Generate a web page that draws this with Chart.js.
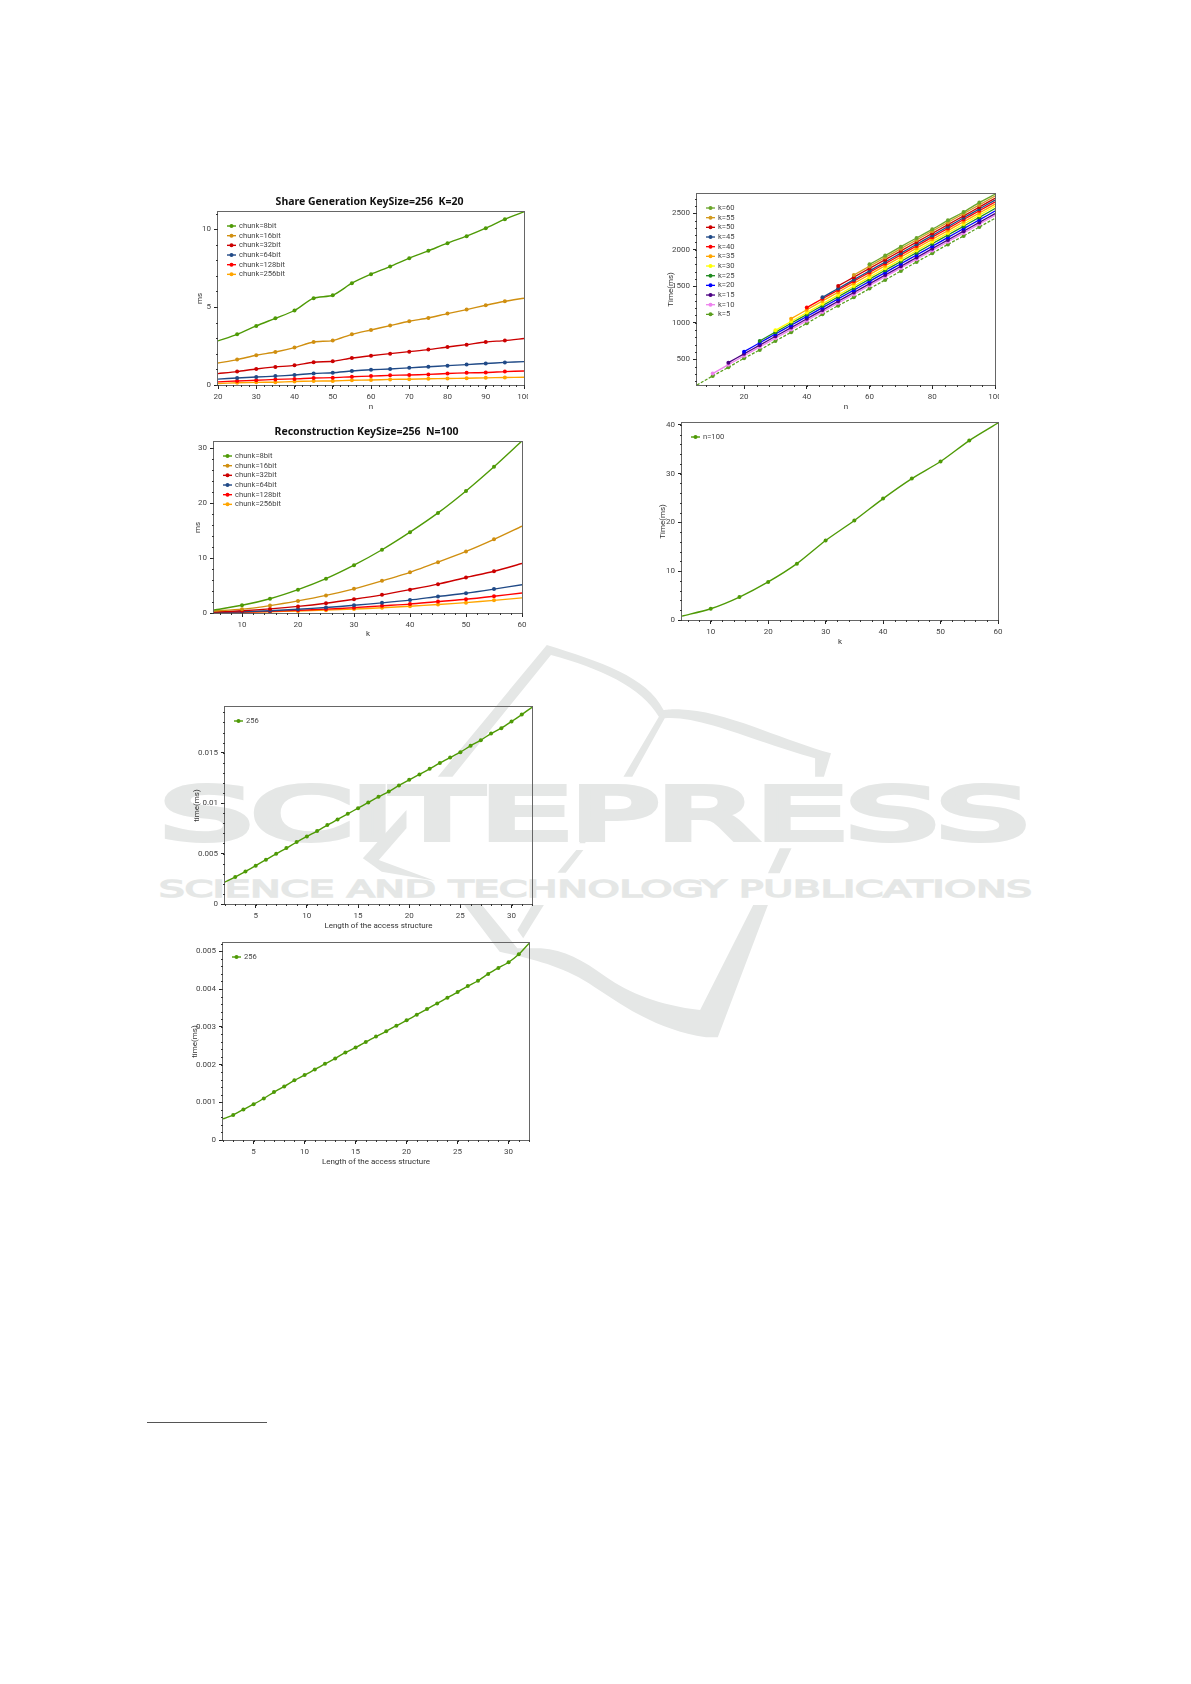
<!DOCTYPE html>
<html>
<head>
<meta charset="utf-8">
<title>Share generation and reconstruction timings</title>
<script src="https://cdn.jsdelivr.net/npm/chart.js@4"></script>
<style>
    html, body { margin: 0; padding: 0; background: #fff; }
    #page { position: relative; width: 1191px; height: 1684px; overflow: hidden; background: #fff; }
    #mark { position: absolute; left: 0; top: 0; }
    canvas { position: absolute; filter: blur(0.3px); }
    #rule { position: absolute; left: 147px; top: 1422px; width: 120px; height: 1px; background: #555; }
</style>
</head>
<body>
<div id="page">
    <svg id="mark" width="1191" height="1684" fill="#e5e7e6">
        <g transform="translate(140 630) scale(0.5896 0.3333)">
            <path d="M690,45 L505,440 L530,440 L697,75 C780,115 850,170 880,260 L820,440 L835,440 L890,265 C950,255 1050,340 1145,385 L1145,440 L1160,440 L1172,370 C1090,330 1000,250 930,240 C905,235 895,240 888,240 C860,140 780,95 690,45 Z"/>
            <path d="M452,540 L378,685 L410,725 L500,752 L405,690 L452,595 Z"/>
            <path d="M765,595 L745,640 L755,640 Z M740,660 L708,728 L722,728 L752,660 Z M1085,655 L1065,730 L1085,730 L1105,655 Z"/>
            <path d="M550,825 L610,965 C670,990 720,1010 770,1070 C830,1140 880,1200 960,1222 L980,1222 L1065,825 L1040,825 L950,1140 C880,1125 830,1090 790,1040 C750,990 720,960 680,955 L640,955 L580,825 Z"/>
            <path d="M665,825 L640,900 L650,925 L685,825 Z"/>
        </g>
        <text x="161" y="839" font-family="DejaVu Sans" font-size="72" stroke="#e5e7e6" stroke-width="6" textLength="867" lengthAdjust="spacingAndGlyphs">SCITEPRESS</text>
        <text x="159" y="897" font-family="DejaVu Sans" font-size="23" stroke="#e5e7e6" stroke-width="1.5" textLength="873" lengthAdjust="spacingAndGlyphs">SCIENCE AND TECHNOLOGY PUBLICATIONS</text>
    </svg>
    <div id="rule"></div>
</div>
<script>
// x values
const nShare = [20, 25, 30, 35, 40, 45, 50, 55, 60, 65, 70, 75, 80, 85, 90, 95, 100];
const kRecon = [5, 10, 15, 20, 25, 30, 35, 40, 45, 50, 55, 60];
const nSweep = [5, 10, 15, 20, 25, 30, 35, 40, 45, 50, 55, 60, 65, 70, 75, 80, 85, 90, 95, 100];
const accessLen = [2, 3, 4, 5, 6, 7, 8, 9, 10, 11, 12, 13, 14, 15, 16, 17, 18, 19, 20, 21, 22, 23, 24, 25, 26, 27, 28, 29, 30, 31, 32];

// Share Generation KeySize=256 K=20
const share8 = [2.83, 3.25, 3.79, 4.28, 4.78, 5.57, 5.76, 6.53, 7.11, 7.6, 8.14, 8.61, 9.1, 9.55, 10.06, 10.64, 11.11];
const share16 = [1.41, 1.63, 1.91, 2.12, 2.4, 2.76, 2.85, 3.25, 3.53, 3.81, 4.09, 4.3, 4.58, 4.84, 5.12, 5.37, 5.57];
const share32 = [0.73, 0.86, 1.03, 1.16, 1.26, 1.46, 1.52, 1.73, 1.88, 2.01, 2.14, 2.27, 2.44, 2.59, 2.76, 2.85, 2.98];
const share64 = [0.38, 0.45, 0.51, 0.57, 0.64, 0.74, 0.79, 0.9, 0.98, 1.03, 1.1, 1.17, 1.24, 1.31, 1.38, 1.45, 1.5];
const share128 = [0.2, 0.26, 0.3, 0.36, 0.39, 0.45, 0.47, 0.53, 0.57, 0.62, 0.64, 0.68, 0.74, 0.78, 0.8, 0.86, 0.9];
const share256 = [0.1, 0.14, 0.17, 0.18, 0.22, 0.25, 0.26, 0.3, 0.32, 0.36, 0.37, 0.4, 0.42, 0.43, 0.46, 0.48, 0.5];

// Reconstruction KeySize=256 N=100
const recon8 = [0.55, 1.4, 2.6, 4.25, 6.25, 8.7, 11.5, 14.7, 18.2, 22.2, 26.6, 31.3];
const recon16 = [0.35, 0.7, 1.35, 2.2, 3.2, 4.4, 5.85, 7.4, 9.25, 11.2, 13.4, 15.8];
const recon32 = [0.17, 0.4, 0.75, 1.2, 1.78, 2.5, 3.3, 4.25, 5.25, 6.45, 7.6, 9.0];
const recon64 = [0.1, 0.22, 0.42, 0.68, 1.0, 1.4, 1.85, 2.35, 3.0, 3.6, 4.35, 5.15];
const recon128 = [0.07, 0.16, 0.3, 0.48, 0.7, 0.97, 1.3, 1.62, 2.08, 2.5, 3.05, 3.65];
const recon256 = [0.05, 0.12, 0.22, 0.36, 0.52, 0.72, 0.95, 1.22, 1.55, 1.88, 2.3, 2.75];

// time against n, each k starts at n=k so the arrays line up with the end of nSweep
const sweep60 = [1801, 1920, 2043, 2162, 2280, 2403, 2518, 2646, 2760];
const sweep55 = [1655, 1775, 1895, 2015, 2135, 2255, 2375, 2495, 2615, 2735];
const sweep50 = [1505, 1625, 1745, 1865, 1985, 2105, 2225, 2345, 2465, 2585, 2705];
const sweep45 = [1349, 1470, 1591, 1712, 1833, 1954, 2075, 2196, 2317, 2438, 2559, 2680];
const sweep40 = [1208, 1329, 1449, 1570, 1690, 1811, 1931, 2052, 2173, 2293, 2414, 2534, 2655];
const sweep35 = [1057, 1178, 1298, 1419, 1540, 1660, 1781, 1901, 2022, 2143, 2263, 2384, 2504, 2625];
const sweep30 = [897, 1018, 1140, 1261, 1382, 1504, 1625, 1746, 1867, 1989, 2110, 2231, 2353, 2474, 2595];
const sweep25 = [751, 872, 993, 1114, 1235, 1356, 1477, 1598, 1719, 1840, 1961, 2082, 2203, 2323, 2444, 2565];
const sweep20 = [605, 726, 846, 967, 1086, 1207, 1327, 1447, 1568, 1688, 1808, 1929, 2049, 2169, 2290, 2410, 2530];
const sweep15 = [454, 575, 694, 815, 934, 1055, 1174, 1295, 1415, 1534, 1655, 1775, 1894, 2015, 2135, 2255, 2375, 2495];
const sweep10 = [304, 427, 548, 668, 789, 908, 1029, 1149, 1270, 1389, 1510, 1630, 1750, 1870, 1990, 2110, 2230, 2351, 2470];
const sweep5 = [148, 272, 390, 514, 628, 751, 870, 993, 1116, 1235, 1349, 1468, 1587, 1710, 1833, 1952, 2074, 2190, 2312, 2431];

// time against k at n=100
const timeN100 = [0.8, 2.3, 4.7, 7.8, 11.55, 16.3, 20.4, 24.9, 29, 32.5, 36.8, 40.4];

// time against the length of the access structure
const accessUpper = [0.00218, 0.00267, 0.00323, 0.0038, 0.00439, 0.00498, 0.00554, 0.00614, 0.0067, 0.00723, 0.00782, 0.00838, 0.00894, 0.0095, 0.01007, 0.01063, 0.01115, 0.01175, 0.01231, 0.01284, 0.0134, 0.01399, 0.01452, 0.01505, 0.01568, 0.01624, 0.0169, 0.01743, 0.01809, 0.01878, 0.0195];
const accessLower = [0.00056, 0.00066, 0.00081, 0.00095, 0.0011, 0.00127, 0.00142, 0.00158, 0.00172, 0.00187, 0.00202, 0.00216, 0.00232, 0.00245, 0.0026, 0.00274, 0.00288, 0.00303, 0.00317, 0.00332, 0.00347, 0.00362, 0.00377, 0.00392, 0.00408, 0.00422, 0.0044, 0.00456, 0.00471, 0.00492, 0.00521];

const GREEN = '#4e9a06', GOLD = '#d08f10', DARKRED = '#cc0000', NAVY = '#204a87', RED = '#ff0000', ORANGE = '#ffa500';
const FONT = 'Roboto';
const SIDE = 50, TOP = 28, BOTTOM = 36; // canvas margin around the plot area

function pairs(xs, ys) {
    const start = xs.length - ys.length;
    return ys.map((y, i) => ({ x: xs[start + i], y: y }));
}

function series(label, xs, ys, color, extra) {
    return Object.assign({
        label: label,
        data: pairs(xs, ys),
        borderColor: color,
        backgroundColor: color,
        borderWidth: 1.4,
        tension: 0.25,
        // markers on the frame are not drawn in the original
        pointRadius: ctx => {
            const s = ctx.chart.scales.x;
            return ctx.parsed && (ctx.parsed.x === s.min || ctx.parsed.x === s.max) ? 0 : 2;
        },
        pointBorderWidth: 0
    }, extra || {});
}

// frame, minor ticks and the legend inside the plot
const decorPlugin = {
    id: 'decor',
    afterLayout(chart) {
        // centre the title over the whole canvas, not the part left of the right margin
        if (chart.titleBlock) chart.titleBlock.right = chart.width - 3;
    },
    afterDraw(chart, args, opts) {
        const c = chart.ctx, a = chart.chartArea;
        c.save();
        c.strokeStyle = '#666';
        c.lineWidth = 1;
        c.strokeRect(a.left - 0.5, a.top - 0.5, a.right - a.left + 1, a.bottom - a.top + 1);

        c.strokeStyle = '#333';
        const sx = chart.scales.x, sy = chart.scales.y;
        for (let i = Math.ceil(sx.min / opts.minorX); i * opts.minorX <= sx.max; i++) {
            const px = Math.round(sx.getPixelForValue(i * opts.minorX)) + 0.5;
            c.beginPath(); c.moveTo(px, a.bottom); c.lineTo(px, a.bottom + 2); c.stroke();
        }
        for (let i = Math.ceil(sy.min / opts.minorY); i * opts.minorY <= sy.max; i++) {
            const py = Math.round(sy.getPixelForValue(i * opts.minorY)) + 0.5;
            c.beginPath(); c.moveTo(a.left - 2, py); c.lineTo(a.left, py); c.stroke();
        }

        c.font = '7.6px "' + FONT + '"';
        c.textBaseline = 'middle';
        chart.data.datasets.forEach((ds, i) => {
            const y = a.top + 14 + i * 9.67;
            c.strokeStyle = ds.borderColor;
            c.fillStyle = ds.borderColor;
            c.lineWidth = ds.borderWidth;
            c.setLineDash(ds.borderDash || []);
            c.beginPath(); c.moveTo(a.left + 9, y); c.lineTo(a.left + 18, y); c.stroke();
            c.setLineDash([]);
            c.beginPath(); c.arc(a.left + 13.5, y, 2, 0, Math.PI * 2); c.fill();
            c.fillStyle = '#444';
            c.fillText(ds.label, a.left + 21, y);
        });
        c.restore();
    }
};

function tickText(v) {
    return String(Number(v.toFixed(4)));
}

function axis(cfg, name) {
    const horizontal = name === 'x';
    const major = cfg[name + 'Major'];
    return {
        type: 'linear',
        min: cfg[name + 'Range'][0],
        max: cfg[name + 'Range'][1],
        afterFit: scale => {
            if (horizontal) scale.height = BOTTOM; else scale.width = SIDE;
        },
        // labelled ticks only at multiples of the major step, never at the axis ends
        afterBuildTicks: scale => {
            const list = [];
            for (let i = Math.ceil(scale.min / major - 1e-9); i * major <= scale.max + 1e-9; i++) {
                list.push({ value: i * major });
            }
            scale.ticks = list;
        },
        border: { display: false },
        grid: { drawOnChartArea: false, tickLength: 4, tickColor: '#222', tickWidth: 1 },
        ticks: {
            autoSkip: false,
            maxRotation: 0,
            padding: 3,
            color: '#444',
            font: { family: FONT, size: 8 },
            callback: tickText
        },
        title: {
            display: true,
            text: cfg[name + 'Title'],
            color: '#333',
            font: { family: FONT, size: 8 },
            // distance from the outer canvas edge to the label
            padding: horizontal ? { top: 0, bottom: BOTTOM - cfg.xTitleAt - 5 } : { top: SIDE - cfg.yTitleAt - 5, bottom: 0 }
        }
    };
}

function draw(cfg) {
    const [left, top, right, bottom] = cfg.plot;
    const canvas = document.createElement('canvas');
    const w = right - left + 2 * SIDE, h = bottom - top + TOP + BOTTOM;
    canvas.width = w;
    canvas.height = h;
    canvas.style.left = (left - SIDE) + 'px';
    canvas.style.top = (top - TOP) + 'px';
    canvas.style.width = w + 'px';
    canvas.style.height = h + 'px';
    if (cfg.cutRight) canvas.style.clipPath = 'inset(0 ' + (SIDE - cfg.cutRight) + 'px 0 0)';
    document.getElementById('page').appendChild(canvas);

    new Chart(canvas.getContext('2d'), {
        type: 'line',
        data: { datasets: cfg.datasets },
        plugins: [decorPlugin],
        options: {
            responsive: false,
            animation: false,
            layout: { padding: { left: 0, right: SIDE, top: cfg.title ? 0 : TOP, bottom: 0 } },
            scales: { x: axis(cfg, 'x'), y: axis(cfg, 'y') },
            plugins: {
                legend: { display: false },
                tooltip: { enabled: false },
                title: {
                    display: !!cfg.title,
                    text: cfg.title,
                    color: '#111',
                    font: { family: 'Noto Sans', size: 10.5, weight: 'bold', lineHeight: 1.2 },
                    padding: { top: 12, bottom: TOP - 12 - 12.6 }
                },
                decor: { minorX: cfg.xMinor, minorY: cfg.yMinor }
            }
        }
    });
}

draw({
    title: 'Share Generation KeySize=256  K=20',
    plot: [218, 212, 524, 385],
    cutRight: 4,
    xRange: [20, 100], xMajor: 10, xMinor: 2, xTitle: 'n', xTitleAt: 22,
    yRange: [0, 11.1], yMajor: 5, yMinor: 1, yTitle: 'ms', yTitleAt: 18,
    datasets: [
        series('chunk=8bit', nShare, share8, GREEN),
        series('chunk=16bit', nShare, share16, GOLD),
        series('chunk=32bit', nShare, share32, DARKRED),
        series('chunk=64bit', nShare, share64, NAVY),
        series('chunk=128bit', nShare, share128, RED),
        series('chunk=256bit', nShare, share256, ORANGE)
    ]
});

draw({
    title: 'Reconstruction KeySize=256  N=100',
    plot: [214, 442, 522, 613],
    xRange: [5, 60], xMajor: 10, xMinor: 2, xTitle: 'k', xTitleAt: 21,
    yRange: [0, 31.1], yMajor: 10, yMinor: 2, yTitle: 'ms', yTitleAt: 16,
    datasets: [
        series('chunk=8bit', kRecon, recon8, GREEN),
        series('chunk=16bit', kRecon, recon16, GOLD),
        series('chunk=32bit', kRecon, recon32, DARKRED),
        series('chunk=64bit', kRecon, recon64, NAVY),
        series('chunk=128bit', kRecon, recon128, RED),
        series('chunk=256bit', kRecon, recon256, ORANGE)
    ]
});

const thick = { borderWidth: 1.3 };
draw({
    plot: [697, 194, 995, 385],
    cutRight: 4,
    xRange: [5, 100], xMajor: 20, xMinor: 4, xTitle: 'n', xTitleAt: 22,
    yRange: [148, 2764], yMajor: 500, yMinor: 100, yTitle: 'Time(ms)', yTitleAt: 26,
    datasets: [
        series('k=60', nSweep, sweep60, '#6aa52a', thick),
        series('k=55', nSweep, sweep55, '#d39a1e', thick),
        series('k=50', nSweep, sweep50, DARKRED, thick),
        series('k=45', nSweep, sweep45, NAVY, thick),
        series('k=40', nSweep, sweep40, RED, thick),
        series('k=35', nSweep, sweep35, ORANGE, thick),
        series('k=30', nSweep, sweep30, '#ffff00', thick),
        series('k=25', nSweep, sweep25, '#1f8a1f', thick),
        series('k=20', nSweep, sweep20, '#0000ff', thick),
        series('k=15', nSweep, sweep15, '#4b0082', thick),
        series('k=10', nSweep, sweep10, '#ee82ee', thick),
        series('k=5', nSweep, sweep5, '#5a9e1e', { borderWidth: 1.3, borderDash: [3, 1.5] })
    ]
});

draw({
    plot: [682, 423, 998, 620],
    xRange: [5, 60], xMajor: 10, xMinor: 2, xTitle: 'k', xTitleAt: 22,
    yRange: [0, 40.4], yMajor: 10, yMinor: 2, yTitle: 'Time(ms)', yTitleAt: 19,
    datasets: [series('n=100', kRecon, timeN100, GREEN)]
});

draw({
    plot: [225, 707, 532, 904],
    xRange: [2, 32], xMajor: 5, xMinor: 1, xTitle: 'Length of the access structure', xTitleAt: 22,
    yRange: [0, 0.01953], yMajor: 0.005, yMinor: 0.001, yTitle: 'time(ms)', yTitleAt: 28,
    datasets: [series('256', accessLen, accessUpper, GREEN)]
});

draw({
    plot: [223, 943, 529, 1140],
    xRange: [2, 32], xMajor: 5, xMinor: 1, xTitle: 'Length of the access structure', xTitleAt: 22,
    yRange: [0, 0.00522], yMajor: 0.001, yMinor: 0.0002, yTitle: 'time(ms)', yTitleAt: 28,
    datasets: [series('256', accessLen, accessLower, GREEN)]
});
</script>
</body>
</html>
